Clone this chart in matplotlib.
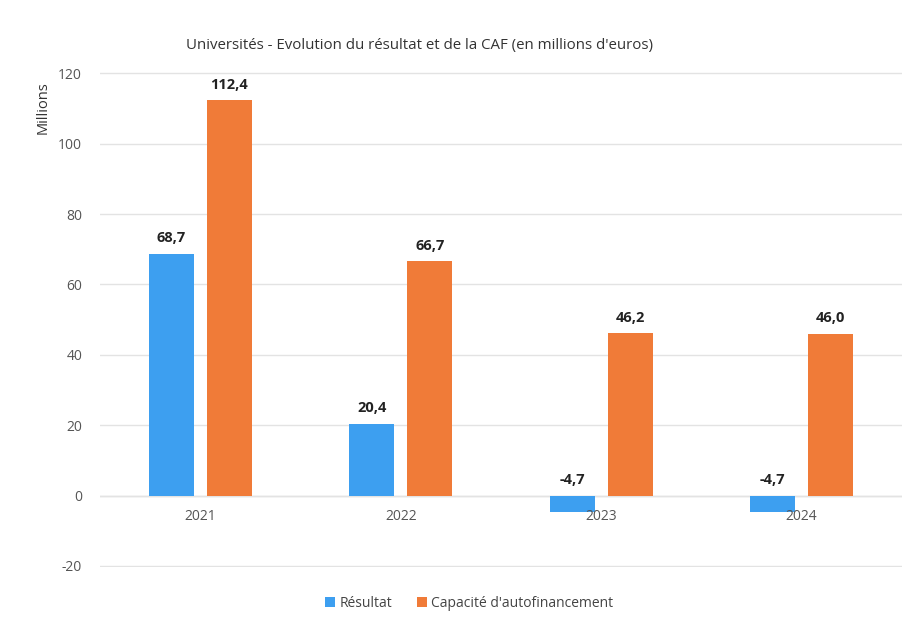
import matplotlib
matplotlib.use("Agg")
import matplotlib.pyplot as plt
import numpy as np

plt.rcParams['font.family'] = ['Open Sans', 'DejaVu Sans']

#%%======================== DATA ==========================================%%#
years = ['2021', '2022', '2023', '2024']
resultat = [68.7, 20.4, -4.7, -4.7]
caf = [112.4, 66.7, 46.2, 46.0]
series_names = ['Résultat', "Capacité d'autofinancement"]
yticks = [-20, 0, 20, 40, 60, 80, 100, 120]

BarColor = ['#3d9ff0', '#f07b38']

#%%======================== PLOT ==========================================%%#
fig = plt.figure(figsize=(9.11, 6.2), dpi=100)
ax = fig.add_axes([0.11, 0.085, 0.88, 0.799])

x = np.arange(len(years))
w = 0.225
off = 0.145

b1 = ax.bar(x - off, resultat, w, color=BarColor[0], label=series_names[0], zorder=3)
b2 = ax.bar(x + off, caf, w, color=BarColor[1], label=series_names[1], zorder=3)

for bars, vals in ((b1, resultat), (b2, caf)):
  for rect, v in zip(bars, vals):
    ax.annotate(('%.1f' % v).replace('.', ','),
                xy=(rect.get_x() + rect.get_width()/2, max(v, 0)),
                xytext=(0, 6), textcoords='offset points',
                ha='center', va='bottom', fontsize=10.5, fontweight='bold', color='#222222')

ax.set_xlim(-0.5, len(years) - 0.5)
ax.set_ylim(-20.4, 120.4)
ax.set_yticks(yticks)
ax.set_yticklabels([str(t) for t in yticks], fontsize=10, color='#555555')
ax.yaxis.grid(True, color='#e3e3e3', linewidth=1, zorder=0)
ax.set_xticks([])
for s in ax.spines.values():
  s.set_visible(False)
ax.tick_params(axis='y', length=0, pad=13)
ax.axhline(0, color='#d9d9d9', linewidth=1, zorder=1)

for i, yr in enumerate(years):
  ax.annotate(yr, xy=(i, 0), xytext=(0, -10), textcoords='offset points',
              ha='center', va='top', fontsize=10, color='#555555', zorder=4)

fig.text(0.047, 0.827, 'Millions', rotation=90, ha='center', va='center', fontsize=10.5, color='#333333')
fig.text(0.461, 0.927, "Universités - Evolution du résultat et de la CAF (en millions d'euros)",
         ha='center', va='center', fontsize=10.8, color='#333333')

fig.legend(handles=[b1, b2], loc='center', bbox_to_anchor=(0.515, 0.027), ncol=2, frameon=False,
           fontsize=10, handlelength=0.7, handleheight=0.7, handletextpad=0.3, columnspacing=1.8,
           labelcolor='#444444')

fig.savefig('out.png', dpi=100)
